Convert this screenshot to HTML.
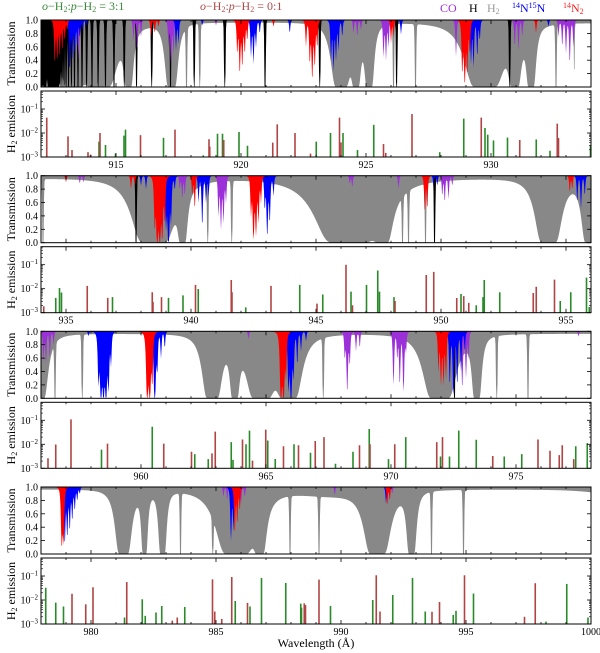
<!DOCTYPE html>
<html><head><meta charset="utf-8">
<style>
html,body{margin:0;padding:0;background:#fff;}
svg{display:block;font-family:"Liberation Serif",serif;}
</style></head>
<body>
<svg id="chart" width="600" height="653" viewBox="0 0 600 653" xmlns="http://www.w3.org/2000/svg">
<g font-size="12">
<text x="42" y="10" fill="#3a8a3a"><tspan font-style="italic">o</tspan>−H<tspan font-size="8" dy="2">2</tspan><tspan dy="-2">:</tspan><tspan font-style="italic">p</tspan>−H<tspan font-size="8" dy="2">2</tspan><tspan dy="-2"> = 3:1</tspan></text>
<text x="200" y="10" fill="#b04848"><tspan font-style="italic">o</tspan>−H<tspan font-size="8" dy="2">2</tspan><tspan dy="-2">:</tspan><tspan font-style="italic">p</tspan>−H<tspan font-size="8" dy="2">2</tspan><tspan dy="-2"> = 0:1</tspan></text>
</g>
<g font-size="12">
<text x="440" y="12" fill="#9b30d8">CO</text>
<text x="469" y="12" fill="#000">H</text>
<text x="487" y="12" fill="#999">H<tspan font-size="8" dy="2">2</tspan></text>
<text x="512" y="12" fill="#0000ff"><tspan font-size="8" dy="-4">14</tspan><tspan dy="4">N</tspan><tspan font-size="8" dy="-4">15</tspan><tspan dy="4">N</tspan></text>
<text x="563" y="12" fill="#ff2020"><tspan font-size="8" dy="-4">14</tspan><tspan dy="4">N</tspan><tspan font-size="8" dy="2">2</tspan></text>
</g>
<g id="plots"></g>
<text x="316" y="647" font-size="12" text-anchor="middle">Wavelength (Å)</text>
</svg>
<script>
// ---------- data ----------
const rowStarts = [912, 934, 956, 978];
const rowSpan = 22;
const transTicks = [0.0, 0.2, 0.4, 0.6, 0.8, 1.0];
const transTickLabels = ["0.0","0.2","0.4","0.6","0.8","1.0"];
const emisMajorExp = [-3, -2, -1];
const xTickLabels = [[915,920,925,930],[935,940,945,950,955],[960,965,970,975],[980,985,990,995,1000]];

// H2 absorption lines: [wavelength, tau0, width, thin(1)/broad(0)]
const h2Lines = [
[913.3,300,0.08,0],[914.33,300,0.11,0],[915.5,300,0.03,0],[917.22,300,0.04,0],[917.82,50,0.02,1],[918.35,50,0.02,1],
[924.0,300,0.06,0],[924.6,300,0.03,0],[925.13,300,0.03,0],[926.1,50,0.02,1],[926.98,50,0.02,1],
[929.75,300,0.12,0],[930.95,300,0.04,0],[931.6,300,0.03,0],[932.6,50,0.02,1],[933.33,2.5,0.02,1],
[934.08,50,0.02,1],[938.5,300,0.13,0],[939.66,300,0.03,0],[940.67,50,0.02,1],[941.63,50,0.02,1],
[946.3,300,0.2,0],[947.65,300,0.06,0],[948.46,50,0.02,1],[948.7,50,0.02,1],[949.38,50,0.02,1],
[954.3,300,0.08,0],[955.8,50,0.02,1],[955.95,300,0.05,0],
[956.56,50,0.02,1],[957.65,50,0.02,1],[962.85,300,0.06,0],[963.75,300,0.03,0],[964.8,300,0.09,0],[965.9,300,0.08,0],
[967.29,50,0.02,1],[971.95,300,0.1,0],[973.43,300,0.03,0],[974.23,50,0.02,1],[975.48,50,0.02,1],
[981.3,300,0.05,0],[982.14,300,0.02,0],[982.86,300,0.025,0],[983.58,50,0.02,1],[984.87,50,0.02,1],
[985.8,300,0.12,0],[986.75,300,0.04,0],[987.96,50,0.02,1],[989.12,50,0.02,1],
[991.45,300,0.08,0],[992.82,300,0.03,0],[993.62,50,0.02,1],[994.9,50,0.02,1],
[989.5,0.1,2.0,0],[1001,0.08,1.5,0]
];
// H (Lyman series) line wavelengths
const hLines = [972.537,949.743,937.803,930.748,926.226,923.150,920.963,919.351,918.129,917.181,916.429,915.824,915.329,
914.919,914.576,914.286,914.038,913.826,913.640,913.479,913.339,913.214,913.103,913.006,912.918,912.839,912.767,
912.703,912.645,912.590,912.542,912.497,912.457,912.419,912.385,912.352,912.323,912.270,912.204,912.149,912.118,912.055,912.007];
// CO lines: [wavelength, min transmission]
const coLines = [
[913.5,0.4],[915.7,0.7],[915.85,0.55],[916.0,0.75],[917.1,0.6],[917.2,0.35],[917.3,0.5],[919.0,0.92],[922.65,0.88],
[924.5,0.8],[924.65,0.75],[924.8,0.85],[925.7,0.45],[925.8,0.4],[925.9,0.6],[928.6,0.45],
[930.95,0.6],[931.1,0.55],[931.25,0.75],[932.7,0.75],[932.85,0.6],[933.0,0.5],[933.15,0.35],[933.3,0.6],
[935.55,0.88],[935.7,0.9],[939.55,0.8],[939.65,0.65],[939.75,0.7],[941.1,0.4],[941.2,0.2],[941.3,0.3],[941.4,0.6],
[946.35,0.88],[946.45,0.82],[948.3,0.8],[950.05,0.7],[950.15,0.6],[950.3,0.65],[950.45,0.85],
[956.1,0.55],[956.2,0.52],[956.35,0.6],[956.5,0.8],[964.3,0.88],[968.15,0.6],[968.25,0.1],[968.35,0.5],[968.6,0.7],[968.75,0.75],
[970.1,0.2],[970.25,0.6],[970.35,0.2],[970.5,0.1],[970.6,0.7],[972.85,0.15],[973.0,0.3],[973.1,0.6],[977.5,0.92],
[985.3,0.85],[985.45,0.8],[986.0,0.75],[986.15,0.85],[989.75,0.88],[992.05,0.9]
];
// 14N15N lines
const n15Lines = [
[913.15,0.25],[913.25,0.4],[913.35,0.5],[913.45,0.6],[913.55,0.75],[913.65,0.85],[913.8,0.9],[918.45,0.92],
[917.4,0.55],[917.5,0.65],[920.4,0.45],[920.5,0.35],[920.6,0.6],[920.75,0.8],[921.95,0.8],
[923.6,0.4],[923.7,0.25],[923.8,0.4],[923.9,0.55],[924.05,0.75],[926.4,0.78],
[929.2,0.35],[929.3,0.3],[929.45,0.45],[929.55,0.7],[932.3,0.9],
[938.0,0.85],[938.2,0.8],[939.0,0.2],[939.1,0.0],[939.2,0.3],[939.35,0.8],
[940.3,0.6],[940.45,0.25],[940.6,0.6],[940.7,0.7],[942.95,0.5],[943.05,0.1],[943.15,0.3],[943.3,0.7],
[949.7,0.85],[949.85,0.85],[955.45,0.6],[955.6,0.5],[955.75,0.7],
[957.9,0.93],[958.3,0.2],[958.4,0.0],[958.5,0.0],[958.6,0.0],[958.7,0.1],[958.8,0.5],
[960.55,0.0],[960.65,0.4],[960.8,0.6],[960.95,0.75],
[965.9,0.1],[966.0,0.0],[966.1,0.3],[966.25,0.5],[966.4,0.7],[966.6,0.85],
[972.35,0.2],[972.5,0.05],[972.65,0.2],[972.8,0.4],[972.95,0.7],
[978.95,0.15],[979.05,0.25],[979.15,0.35],[979.25,0.5],[979.35,0.65],[979.45,0.8],[979.55,0.9],
[985.6,0.2],[985.7,0.35],[991.8,0.75]
];
// 14N2 lines
const n2Lines = [
[912.55,0.35],[912.65,0.4],[912.75,0.45],[912.85,0.55],[912.95,0.7],[913.05,0.85],
[916.4,0.75],[916.55,0.8],[916.7,0.9],[919.85,0.5],[919.95,0.2],[920.05,0.3],[920.15,0.5],[920.25,0.7],[921.3,0.9],
[922.6,0.6],[922.75,0.35],[922.85,0.12],[922.95,0.3],[923.05,0.6],[926.0,0.65],[926.1,0.75],
[928.85,0.2],[928.95,0.05],[929.05,0.2],[929.15,0.5],[931.8,0.8],
[935.0,0.9],[937.6,0.8],[937.75,0.85],[938.55,0.2],[938.65,0.0],[938.75,0.0],[938.85,0.05],[938.95,0.3],
[940.05,0.7],[940.15,0.5],[942.4,0.4],[942.5,0.05],[942.6,0.1],[942.7,0.3],[942.8,0.6],
[949.35,0.45],[949.45,0.5],[955.15,0.75],[955.25,0.8],
[960.25,0.0],[960.35,0.0],[960.45,0.2],[965.6,0.0],[965.7,0.0],[965.8,0.3],
[971.9,0.4],[972.0,0.2],[972.1,0.2],[972.2,0.3],
[978.83,0.1],[978.9,0.15],[985.75,0.3],[985.85,0.45],[985.95,0.65],[991.85,0.72],[991.95,0.8]
];
// H2 emission lines (log10 flux)
const greenWl = [914.32,914.58,914.98,915.32,915.38,916.9,918.49,919.06,919.26,919.92,920.26,923.01,923.58,924.08,924.66,925.31,927.95,928.91,929.76,929.87,930.1,930.66,931.81,932.36,933.98,
934.59,934.74,934.82,936.86,939.1,939.68,940.29,942.19,944.35,945.27,946.4,947.02,947.47,947.54,948.12,950.8,951.41,951.68,951.73,952.35,954.77,955.19,955.82,955.93,
958.42,960.45,962.15,962.69,963.61,963.68,964.2,964.34,965.07,965.37,966.12,966.78,967.78,968.48,969.13,969.9,970.59,971.98,972.34,972.71,973.41,974.53,975.23,977.39,977.85,
978.19,978.59,978.9,981.34,982.05,982.17,982.6,982.83,983.75,985.77,986.36,986.82,987.79,988.39,988.42,989.58,991.27,992.07,992.86,993.37,994.49,994.6,995.3,998.2,999.03,999.88];
const greenLog = [-2.36,-2.5,-2.86,-2.11,-1.86,-2.2,-2.93,-2.03,-2.03,-1.96,-2.53,-2.36,-2.0,-2.0,-2.71,-1.66,-2.8,-1.4,-1.79,-2.07,-2.31,-2.19,-2.27,-2.74,-2.5,
-2.38,-1.97,-2.16,-2.35,-2.38,-2.28,-2.01,-2.78,-1.84,-2.24,-2.12,-1.84,-1.24,-2.12,-2.35,-2.22,-2.69,-2.35,-1.64,-2.15,-2.51,-2.15,-1.54,-2.76,
-2.22,-1.27,-2.41,-2.62,-1.91,-2.65,-2.0,-1.43,-1.84,-2.61,-2.0,-2.35,-2.81,-2.31,-1.36,-2.62,-1.7,-2.51,-2.51,-1.43,-1.81,-2.51,-2.41,-2.08,-1.95,
-1.49,-2.11,-2.27,-2.73,-1.97,-2.66,-2.52,-2.25,-2.29,-2.04,-2.27,-1.08,-1.29,-2.15,-2.32,-2.25,-2.0,-1.79,-1.08,-2.48,-2.62,-2.45,-1.73,-2.9,-1.33,-2.73];
const redWl = [912.23,913.08,913.24,913.88,913.98,914.36,915.98,917.36,918.72,918.75,919.31,921.27,921.45,922.16,922.78,923.94,924.0,925.7,925.79,926.84,929.61,931.15,932.65,932.7,
934.11,935.85,936.67,938.45,938.48,938.82,940.18,941.61,941.64,943.2,945.04,946.2,946.46,948.16,949.41,949.71,950.63,950.91,951.11,953.69,953.81,954.54,
956.28,956.59,957.2,958.66,960.91,962.02,962.84,962.97,964.06,964.46,964.99,965.7,966.3,966.97,967.32,968.74,969.16,970.15,971.83,972.06,974.07,975.88,976.36,976.73,976.85,977.31,
979.24,979.79,980.08,981.43,983.25,983.45,984.86,984.95,985.23,985.63,986.26,988.53,988.58,989.12,991.41,991.56,993.64,993.94,994.94,997.34,997.77];
const redLog = [-1.36,-2.14,-2.71,-2.8,-2.9,-2.0,-2.09,-1.86,-2.26,-2.57,-2.29,-2.4,-1.64,-2.0,-2.86,-1.36,-2.39,-2.46,-2.83,-1.21,-1.36,-2.29,-1.61,-2.21,
-2.73,-1.88,-2.38,-2.15,-2.55,-2.35,-1.84,-1.64,-2.15,-1.88,-2.62,-1.0,-2.69,-2.51,-1.43,-1.3,-2.39,-2.31,-2.59,-2.18,-1.92,-1.62,
-2.58,-2.01,-0.96,-1.97,-1.97,-2.31,-2.38,-1.47,-1.8,-2.68,-1.39,-2.08,-2.04,-1.86,-1.7,-2.04,-2.0,-2.0,-1.91,-1.7,-2.49,-1.8,-2.27,-2.45,-2.04,-2.62,
-1.74,-2.18,-1.47,-1.25,-2.86,-2.73,-1.14,-2.48,-2.79,-1.04,-2.12,-2.14,-2.21,-1.15,-0.97,-2.48,-2.49,-2.08,-0.97,-2.7,-1.3];

// ---------- layout ----------
const NS = "http://www.w3.org/2000/svg";
const PL = 41, PR = 591, PW = PR - PL;
const rowTops = [20, 175.7, 331.3, 487];
const TH = 67, GAP = 4, EH = 66;
const plots = document.getElementById('plots');

function mk(tag, attrs, parent) {
  const e = document.createElementNS(NS, tag);
  for (const k in attrs) e.setAttribute(k, attrs[k]);
  parent.appendChild(e);
  return e;
}
function xs(r, wl) { return PL + (wl - rowStarts[r]) / rowSpan * PW; }
function yT(r, t) { return rowTops[r] + (1 - t) * TH; }
function yE(r, lg) { const top = rowTops[r] + TH + GAP; return top + (-0.25 - lg) * (EH / 2.75); }

function tauH2(wl) {
  let tau = 0.035;
  for (const [c, t0, w, thin] of h2Lines) {
    const d = (wl - c) / w;
    tau += t0 / Math.pow(1 + d * d, thin ? 3 : 1.5);
  }
  return tau;
}
function tauLines(lines, wl, w) {
  let tau = 0;
  for (const [c, tm] of lines) { const d = (wl - c) / w; tau += -Math.log(Math.max(tm, 0.003)) / Math.pow(1 + d * d, 1.5); }
  return tau;
}
function tauH(wl) {
  let tau = 0;
  for (const c of hLines) { const d = (wl - c) / 0.02; tau += 50 / Math.pow(1 + d * d, 3); }
  return tau;
}
function fillPath(r, fn) {
  let d = `M${PL},${rowTops[r]}`;
  for (let x = PL; x <= PR; x += 0.5) {
    const wl = rowStarts[r] + (x - PL) / PW * rowSpan;
    const t = Math.exp(-fn(wl));
    d += ` L${x.toFixed(1)},${yT(r, t).toFixed(2)}`;
  }
  d += ` L${PR},${rowTops[r]} Z`;
  return d;
}

for (let r = 0; r < 4; r++) {
  const g = mk('g', {}, plots);
  
  
  const tTop = rowTops[r], eTop = tTop + TH + GAP;
  const cp = mk('clipPath', { id: 'clipT' + r }, g);
  mk('rect', { x: PL, y: tTop, width: PW, height: TH }, cp);
  const cpe = mk('clipPath', { id: 'clipE' + r }, g);
  mk('rect', { x: PL, y: eTop, width: PW, height: EH }, cpe);

  const tg = mk('g', { 'clip-path': `url(#clipT${r})` }, g);
  
  
  const species = [
    ['h2-absorption', '#888888', tauH2],
    ['h-absorption', '#000000', tauH],
    ['co-absorption', '#9b30d8', wl => tauLines(coLines, wl, 0.03)],
    ['n15n-absorption', '#0000ff', wl => tauLines(n15Lines, wl, 0.03)],
    ['n2-absorption', '#ff0000', wl => tauLines(n2Lines, wl, 0.03)]
  ];
  for (const [name, col, fn] of species) {
    const p = mk('path', { d: fillPath(r, fn), fill: col, stroke: 'none' }, tg);
    
    
  }
  const tf = mk('rect', { x: PL, y: tTop, width: PW, height: TH, fill: 'none', stroke: '#000', 'stroke-width': 1 }, g);
  
  

  const eg = mk('g', { 'clip-path': `url(#clipE${r})` }, g);
  
  
  const lo = rowStarts[r], hi = rowStarts[r] + rowSpan;
  for (let i = 0; i < greenWl.length; i++) {
    if (greenWl[i] < lo || greenWl[i] > hi) continue;
    const x = xs(r, greenWl[i]);
    const l = mk('line', { x1: x, x2: x, y1: yE(r, -3), y2: yE(r, greenLog[i]), stroke: '#2a8a2a', 'stroke-width': 1.6 }, eg);
    
    
  }
  for (let i = 0; i < redWl.length; i++) {
    if (redWl[i] < lo || redWl[i] > hi) continue;
    const x = xs(r, redWl[i]);
    const l = mk('line', { x1: x, x2: x, y1: yE(r, -3), y2: yE(r, redLog[i]), stroke: '#b04444', 'stroke-width': 1.6 }, eg);
    
    
  }
  const ef = mk('rect', { x: PL, y: eTop, width: PW, height: EH, fill: 'none', stroke: '#000', 'stroke-width': 1 }, g);
  
  

  const ticks = mk('g', { stroke: '#000', 'stroke-width': 0.8 }, g);
  
  
  for (let w = Math.ceil(lo); w <= hi; w++) {
    const x = xs(r, w), len = (w % 5 === 0) ? 4 : 2;
    for (const [y0, dir] of [[tTop, 1], [tTop + TH, -1], [eTop, 1], [eTop + EH, -1]]) {
      mk('line', { x1: x, x2: x, y1: y0, y2: y0 + dir * len }, ticks);
    }
  }
  for (const v of xTickLabels[r]) {
    const t = mk('text', { x: xs(r, v), y: eTop + EH + 11, 'font-size': 10, 'text-anchor': 'middle' }, g);
    
    
    t.textContent = v;
  }
  for (let i = 0; i < transTicks.length; i++) {
    const y = yT(r, transTicks[i]);
    mk('line', { x1: PL, x2: PL + 4, y1: y, y2: y, stroke: '#000', 'stroke-width': 0.8 }, ticks);
    mk('line', { x1: PR, x2: PR - 4, y1: y, y2: y, stroke: '#000', 'stroke-width': 0.8 }, ticks);
    const t = mk('text', { x: PL - 3, y: y + 3.5, 'font-size': 10, 'text-anchor': 'end' }, g);
    
    
    t.textContent = transTickLabels[i];
  }
  for (const ex of emisMajorExp) {
    const y = yE(r, ex);
    mk('line', { x1: PL, x2: PL + 4, y1: y, y2: y, stroke: '#000', 'stroke-width': 0.8 }, ticks);
    mk('line', { x1: PR, x2: PR - 4, y1: y, y2: y, stroke: '#000', 'stroke-width': 0.8 }, ticks);
    for (let m = 2; m <= 9; m++) {
      const ym = yE(r, ex + Math.log10(m));
      if (ym < eTop) continue;
      mk('line', { x1: PL, x2: PL + 2, y1: ym, y2: ym, stroke: '#000', 'stroke-width': 0.6 }, ticks);
      mk('line', { x1: PR, x2: PR - 2, y1: ym, y2: ym, stroke: '#000', 'stroke-width': 0.6 }, ticks);
    }
    const t = mk('text', { x: PL - 3, y: y + 3.5, 'font-size': 10, 'text-anchor': 'end' }, g);
    
    
    t.innerHTML = `10<tspan font-size="7" dy="-4">−${-ex}</tspan>`;
  }
  const yt1 = mk('text', { x: 0, y: 0, 'font-size': 12, 'text-anchor': 'middle', transform: `translate(15,${tTop + TH / 2}) rotate(-90)` }, g);
  
  
  yt1.textContent = 'Transmission';
  const yt2 = mk('text', { x: 0, y: 0, 'font-size': 12, 'text-anchor': 'middle', transform: `translate(15,${eTop + EH / 2}) rotate(-90)` }, g);
  
  
  yt2.innerHTML = 'H<tspan font-size="8" dy="2">2</tspan><tspan dy="-2"> emission</tspan>';
}
</script>
</body></html>
